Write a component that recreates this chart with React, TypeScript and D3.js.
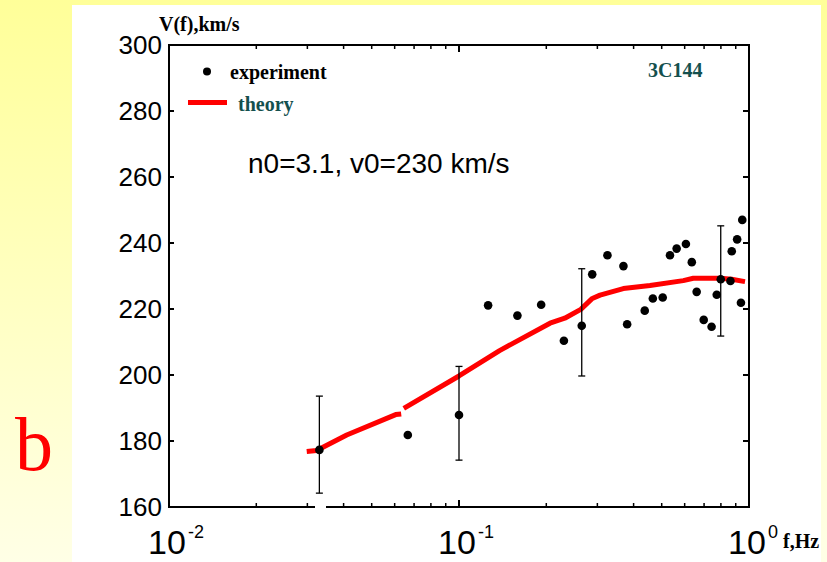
import React from "react";
import * as d3 from "d3";

// ---- data ----
const freq = [0.033, 0.0666, 0.1, 0.126, 0.159, 0.192, 0.23, 0.265, 0.288, 0.325, 0.369, 0.38, 0.437, 0.466, 0.504, 0.534, 0.563, 0.606, 0.635, 0.66, 0.698, 0.743, 0.774, 0.799, 0.863, 0.872, 0.91, 0.938, 0.948];
const velocity = [177.3, 181.8, 187.9, 221.1, 218.0, 221.3, 210.4, 214.9, 230.5, 236.3, 233.0, 215.4, 219.5, 223.2, 223.5, 236.3, 238.3, 239.7, 234.2, 225.2, 216.7, 214.6, 224.3, 229.0, 228.5, 237.5, 241.1, 221.9, 247.0];

const errFreq = [0.033, 0.1, 0.265, 0.799];
const errLow = [164.2, 174.2, 199.7, 211.8];
const errHigh = [193.6, 202.6, 232.2, 245.2];

const theoryF1 = [0.02985, 0.03229, 0.041, 0.0605, 0.0632];
const theoryV1 = [176.8, 177.1, 181.8, 188.0, 188.2];
const theoryF2 = [0.0645, 0.1, 0.138, 0.206, 0.2316, 0.263, 0.2882, 0.3064, 0.3686, 0.4556, 0.5934, 0.6427, 0.7943, 0.8716, 0.9688];
const theoryV2 = [189.9, 199.7, 207.4, 215.7, 217.2, 219.9, 223.2, 224.2, 226.2, 227.1, 228.6, 229.3, 229.3, 229.0, 228.3];

const yTicks = [160, 180, 200, 220, 240, 260, 280, 300];
const xMajor = [0.01, 0.1, 1];
const xExponents = ["-2", "-1", "0"];

const TEAL = "#14504e";
const SANS = "'Liberation Sans', Arial, Helvetica, sans-serif";
const SERIF = "'Liberation Serif', 'Times New Roman', serif";

export default function App() {
  const W = 827, H = 562;
  const x = d3.scaleLog().domain([0.01, 1]).range([169, 749]);
  const y = d3.scaleLinear().domain([160, 300]).range([507, 45]);
  const [x0, x1] = x.range();
  const [yb, yt] = y.range();

  const line = d3.line<[number, number]>().x(d => x(d[0])).y(d => y(d[1]));
  const seg1 = line(theoryF1.map((f, i) => [f, theoryV1[i]]) as [number, number][]) || "";
  const seg2 = line(theoryF2.map((f, i) => [f, theoryV2[i]]) as [number, number][]) || "";

  const minor: number[] = [];
  [0.01, 0.1].forEach(d => { for (let k = 2; k <= 9; k++) minor.push(d * k); });

  return (
    <svg width={W} height={H} style={{ position: "absolute", left: 0, top: 0, display: "block" }}>
      <defs>
        <linearGradient id="bg" x1="0" y1="0" x2="0" y2="1">
          <stop offset="0" stopColor="#ffff99" />
          <stop offset="1" stopColor="#ffffe6" />
        </linearGradient>
      </defs>
      <rect x={0} y={0} width={W} height={H} fill="url(#bg)" />
      <rect x={72} y={5} width={749} height={H - 5} fill="#ffffff" />

      {/* big letter */}
      <text x={15} y={470} fontFamily={SERIF} fontSize={76} fill="#ff0000">b</text>

      {/* theory */}
      <path d={seg1} fill="none" stroke="#ff0000" strokeWidth={5} strokeLinejoin="round" />
      <path d={seg2} fill="none" stroke="#ff0000" strokeWidth={5} strokeLinejoin="round" />

      {/* error bars */}
      {errFreq.map((f, i) => (
        <g key={"e" + i} stroke="#000" strokeWidth={1.3}>
          <line x1={x(f)} x2={x(f)} y1={y(errLow[i])} y2={y(errHigh[i])} />
          <line x1={x(f) - 3.5} x2={x(f) + 3.5} y1={y(errLow[i])} y2={y(errLow[i])} />
          <line x1={x(f) - 3.5} x2={x(f) + 3.5} y1={y(errHigh[i])} y2={y(errHigh[i])} />
        </g>
      ))}

      {/* points */}
      {freq.map((f, i) => (
        <circle key={"p" + i} cx={x(f)} cy={y(velocity[i])} r={4.3} fill="#000" />
      ))}

      {/* axes box */}
      <rect x={x0} y={yt} width={x1 - x0} height={yb - yt} fill="none" stroke="#000" strokeWidth={2} />
      {/* small gap artifact on bottom axis */}
      <rect x={315} y={yb - 1.5} width={11} height={3} fill="#ffffff" />

      {/* y ticks */}
      {yTicks.map(t => (
        <g key={"y" + t}>
          {t !== 160 && t !== 300 && (
            <>
              <line x1={x0} x2={x0 + 5} y1={y(t)} y2={y(t)} stroke="#000" strokeWidth={2} />
              <line x1={x1} x2={x1 - 6} y1={y(t)} y2={y(t)} stroke="#000" strokeWidth={2} />
            </>
          )}
          <text x={162} y={y(t)} dy="0.36em" textAnchor="end" fontFamily={SANS} fontSize={26} fill="#000">{t}</text>
        </g>
      ))}

      {/* x ticks */}
      {minor.map((m, i) => (
        <g key={"m" + i} stroke="#000" strokeWidth={1.5}>
          <line x1={x(m)} x2={x(m)} y1={yb} y2={yb - 4} />
          <line x1={x(m)} x2={x(m)} y1={yt} y2={yt + 4} />
        </g>
      ))}
      <g stroke="#000" strokeWidth={2}>
        <line x1={x(0.1)} x2={x(0.1)} y1={yb} y2={yb - 7} />
        <line x1={x(0.1)} x2={x(0.1)} y1={yt} y2={yt + 7} />
      </g>
      {xMajor.map((t, i) => (
        <g key={"x" + i}>
          <text x={x(t) - 2} y={554} textAnchor="middle" fontFamily={SANS} fontSize={34} fill="#000">10</text>
          <text x={x(t) + 19} y={538} fontFamily={SANS} fontSize={18} fill="#000">{xExponents[i]}</text>
        </g>
      ))}

      {/* axis titles */}
      <text x={159} y={31} fontFamily={SERIF} fontWeight="bold" fontSize={20} fill="#000">V(f),km/s</text>
      <text x={783} y={548} fontFamily={SERIF} fontWeight="bold" fontSize={20} fill="#000">f,Hz</text>

      {/* legend */}
      <circle cx={207} cy={71.5} r={4} fill="#000" />
      <text x={230} y={79} fontFamily={SERIF} fontWeight="bold" fontSize={20} fill="#000">experiment</text>
      <line x1={188} x2={227} y1={102.5} y2={102.5} stroke="#ff0000" strokeWidth={5} />
      <text x={238} y={111} fontFamily={SERIF} fontWeight="bold" fontSize={20} fill={TEAL}>theory</text>

      <text x={648} y={77} fontFamily={SERIF} fontWeight="bold" fontSize={20} fill={TEAL}>3C144</text>
      <text x={248} y={173} fontFamily={SANS} fontSize={28} fill="#000">n0=3.1, v0=230 km/s</text>
    </svg>
  );
}
